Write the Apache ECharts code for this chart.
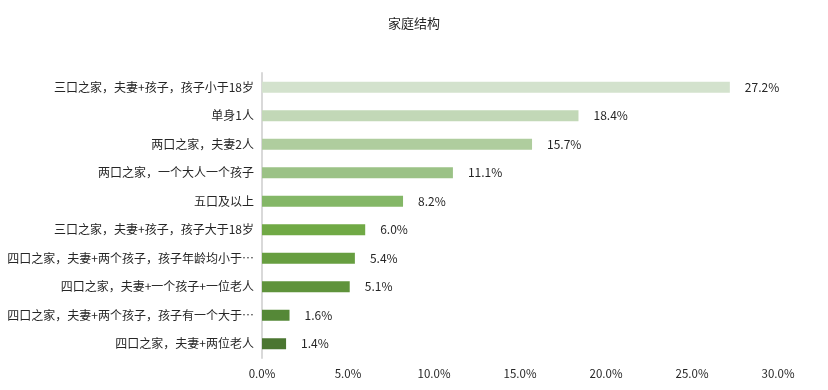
<!DOCTYPE html>
<html><head><meta charset="utf-8">
<script src="https://cdn.jsdelivr.net/npm/echarts@6/dist/echarts.min.js"></script>
<style>html,body{margin:0;padding:0;background:#fff}#c{width:828px;height:390px}</style>
</head><body><div id="c"></div>
<script>
const categories = ['三口之家，夫妻+孩子，孩子小于18岁','单身1人','两口之家，夫妻2人','两口之家，一个大人一个孩子','五口及以上','三口之家，夫妻+孩子，孩子大于18岁','四口之家，夫妻+两个孩子，孩子年龄均小于…','四口之家，夫妻+一个孩子+一位老人','四口之家，夫妻+两个孩子，孩子有一个大于…','四口之家，夫妻+两位老人'];
const values = [27.2,18.4,15.7,11.1,8.2,6.0,5.4,5.1,1.6,1.4];
const colors = ['#d3e2cd','#c2d8b7','#afcd9e','#9bc286','#84b767','#70a945','#679e40','#5f933b','#558837','#4b7631'];
const font = '"Noto Sans CJK SC", "Liberation Sans", sans-serif';
const chart = echarts.init(document.getElementById('c'));
chart.setOption({
  animation:false,
  title:{text:'家庭结构',left:'center',top:12,textStyle:{fontSize:13,fontWeight:'normal',color:'#262626',fontFamily:font}},
  grid:{left:262,right:50,top:73,bottom:32,containLabel:false},
  xAxis:{type:'value',min:0,max:30,interval:5,
    axisLabel:{formatter:v=>v.toFixed(1)+'%',fontSize:11.5,color:'#262626',margin:10,fontFamily:font},
    splitLine:{show:false},axisLine:{show:false},axisTick:{show:false}},
  yAxis:{type:'category',data:categories,inverse:true,
    axisLine:{show:true,lineStyle:{color:'#d9d9d9',width:2}},axisTick:{show:false},
    axisLabel:{fontSize:12,color:'#262626',margin:8,fontFamily:font}},
  series:[{type:'bar',barWidth:11,
    data:values.map((v,i)=>({value:v,itemStyle:{color:colors[i]}})),
    label:{show:true,position:'right',distance:15,formatter:p=>p.value.toFixed(1)+'%',fontSize:12,color:'#262626',fontFamily:font}}]
});
</script></body></html>
